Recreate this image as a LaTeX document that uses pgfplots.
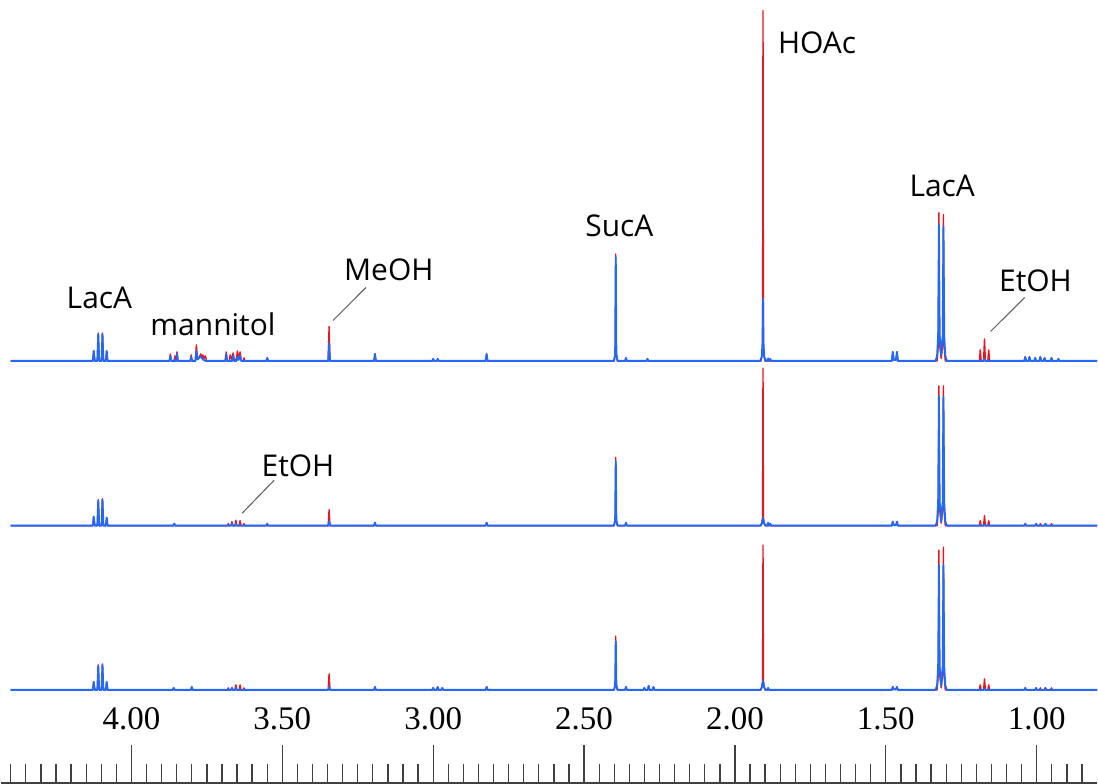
\documentclass[border=0pt]{standalone}
\usepackage{fontspec}
\setmainfont{Liberation Serif}
\newfontfamily\sanslabel{Open Sans}
\newfontfamily\ticklab{Liberation Serif}
\usepackage{pgfplots}
\pgfplotsset{compat=1.18}
\definecolor{specred}{RGB}{225,25,35}
\definecolor{specblue}{RGB}{35,105,245}
\begin{document}
\begin{tikzpicture}
\begin{axis}[
  scale only axis, width=1098pt, height=784pt,
  x dir=reverse, xmin=0.80, xmax=4.433, ymin=-1, ymax=783,
  axis x line=bottom, axis y line=none,
  axis line style={-, line width=1.6pt, color=black!75},
  xtick={1,1.5,2,2.5,3,3.5,4},
  /pgf/number format/assume math mode=true,
  xticklabel={\ticklab\fontsize{33}{40}\selectfont\pgfmathprintnumber[fixed,fixed zerofill,precision=2,assume math mode=true]{\tick}},
  minor xtick={0.85,0.90,...,4.42},
  tick align=inside, major tick length=38pt, minor tick length=19pt,
  every tick/.style={black!75, line width=1.3pt},
  xticklabel style={anchor=center, yshift=64pt, font=\ticklab\fontsize{33}{40}\selectfont},
  clip=false,
  every axis plot/.append style={line join=round, mark=none},
  redline/.style={specred, line width=1.4pt},
  blueline/.style={specblue, line width=1.9pt},
]
\path (rel axis cs:0,0) rectangle (rel axis cs:1,1);

% ---------------- top trace (red) ----------------
\addplot[redline] coordinates {
(4.40,421.5)
(4.128,421.5)(4.125,431.5)(4.1215,421.5)
(4.113,421.5)(4.110,449.5)(4.107,421.5)
(4.099,421.5)(4.096,449.5)(4.093,421.5)
(4.085,421.5)(4.082,431.5)(4.079,421.5)
(3.874,421.5)(3.871,428.5)(3.868,421.5)
(3.859,421.5)(3.856,426.5)(3.852,421.5)(3.849,430.5)(3.846,421.5)
(3.805,421.5)(3.802,427.5)(3.799,421.5)
(3.788,421.5)(3.785,437.5)(3.781,424)(3.776,425)(3.770,428.5)(3.766,424)(3.763,427.5)(3.759,424)(3.755,426.5)(3.751,421.5)
(3.689,421.5)(3.686,430.5)(3.683,421.5)(3.676,421.5)(3.673,427.5)(3.668,423)(3.663,429.5)(3.659,423)(3.652,423)(3.649,431.5)(3.645,424)(3.640,430.5)(3.636,421.5)
(3.630,421.5)(3.627,424.5)(3.624,421.5)
(3.553,421.5)(3.550,424.5)(3.547,421.5)
(3.348,421.5)(3.345,456)(3.342,421.5)
(3.196,421.5)(3.193,428.5)(3.190,421.5)
(3.003,421.5)(3.000,423.5)(2.997,421.5)(2.988,421.5)(2.985,423.5)(2.982,421.5)
(2.826,421.5)(2.823,428.5)(2.820,421.5)
(2.400,421.5)(2.3965,430)(2.395,528.5)(2.3935,430)(2.390,421.5)
(2.364,421.5)(2.361,424.5)(2.358,421.5)
(2.293,421.5)(2.290,423.5)(2.287,421.5)
(1.913,421.5)(1.9085,432)(1.907,772.5)(1.9055,432)(1.901,421.5)
(1.480,421.5)(1.477,430.5)(1.4735,422.5)(1.4665,422.5)(1.463,430.5)(1.460,421.5)
(1.330,421.5)(1.3255,440)(1.324,570)(1.3225,440)(1.3165,424)(1.3105,440)(1.309,568)(1.3075,440)(1.303,421.5)
(1.190,421.5)(1.187,432.5)(1.184,421.5)(1.176,421.5)(1.173,443.5)(1.170,421.5)(1.162,421.5)(1.159,432.5)(1.156,421.5)
(1.041,421.5)(1.038,425.5)(1.035,421.5)(1.027,421.5)(1.024,425.5)(1.021,421.5)(1.008,421.5)(1.005,424.5)(1.002,421.5)
(0.991,421.5)(0.988,425.5)(0.985,421.5)(0.977,421.5)(0.974,424.5)(0.971,421.5)(0.954,421.5)(0.951,424.5)(0.948,421.5)
(0.931,421.5)(0.928,423.5)(0.925,421.5)
(0.80,421.5)
};
% ---------------- top trace (blue) ----------------
\addplot[blueline] coordinates {
(4.40,421.5)
(4.128,421.5)(4.125,431.5)(4.1215,421.5)
(4.113,421.5)(4.110,448.5)(4.107,421.5)
(4.099,421.5)(4.096,448.5)(4.093,421.5)
(4.085,421.5)(4.082,431.5)(4.079,421.5)
(3.874,421.5)(3.871,426.5)(3.868,421.5)(3.852,421.5)(3.849,428.5)(3.846,421.5)
(3.805,421.5)(3.802,425.5)(3.799,421.5)(3.788,421.5)(3.785,431.5)(3.781,423)(3.770,426)(3.763,423)(3.755,421.5)
(3.689,421.5)(3.686,428.5)(3.683,421.5)(3.666,421.5)(3.663,426.5)(3.660,421.5)(3.652,421.5)(3.649,425.5)(3.645,422.5)(3.640,426.5)(3.636,421.5)
(3.553,421.5)(3.550,424.5)(3.547,421.5)
(3.348,421.5)(3.345,439)(3.342,421.5)
(3.196,421.5)(3.193,428.5)(3.190,421.5)
(3.003,421.5)(3.000,423.5)(2.997,421.5)(2.988,421.5)(2.985,423.5)(2.982,421.5)
(2.826,421.5)(2.823,428.5)(2.820,421.5)
(2.401,421.5)(2.397,428)(2.395,525.5)(2.393,428)(2.389,421.5)
(2.364,421.5)(2.361,424.5)(2.358,421.5)
(2.293,421.5)(2.290,423.5)(2.287,421.5)
(1.916,421.5)(1.911,426)(1.9085,440)(1.907,484)(1.9055,440)(1.903,426)(1.898,421.5)
(1.893,421.5)(1.890,424)(1.887,421.5)(1.883,423.5)(1.880,421.5)
(1.480,421.5)(1.477,430.5)(1.4735,422.5)(1.4665,422.5)(1.463,430.5)(1.460,421.5)
(1.335,421.5)(1.330,426.5)(1.3265,446.5)(1.325,511.5)(1.324,558)(1.323,511.5)(1.3215,446.5)(1.3165,427.5)(1.3115,446.5)(1.310,511.5)(1.309,556)(1.308,511.5)(1.3065,446.5)(1.303,426.5)(1.298,421.5)
(1.176,421.5)(1.173,423.5)(1.170,421.5)
(1.041,421.5)(1.038,425.5)(1.035,421.5)(1.027,421.5)(1.024,425.5)(1.021,421.5)(1.008,421.5)(1.005,424.5)(1.002,421.5)
(0.991,421.5)(0.988,425.5)(0.985,421.5)(0.977,421.5)(0.974,424.5)(0.971,421.5)(0.954,421.5)(0.951,424.5)(0.948,421.5)
(0.931,421.5)(0.928,423.5)(0.925,421.5)
(0.80,421.5)
};

% ---------------- middle trace (red) ----------------
\addplot[redline] coordinates {
(4.40,256.5)
(4.128,256.5)(4.125,265.5)(4.1215,256.5)
(4.113,256.5)(4.110,282.5)(4.107,256.5)
(4.099,256.5)(4.096,283.5)(4.093,256.5)
(4.085,256.5)(4.082,264.5)(4.079,256.5)
(3.861,256.5)(3.858,258.5)(3.855,256.5)
(3.682,256.5)(3.679,258.5)(3.676,256.5)(3.670,256.5)(3.667,260.5)(3.664,256.5)(3.657,256.5)(3.654,262)(3.651,256.5)
(3.643,256.5)(3.640,261.5)(3.637,256.5)(3.630,256.5)(3.627,258.5)(3.624,256.5)
(3.348,256.5)(3.345,272.5)(3.342,256.5)
(3.196,256.5)(3.193,259.5)(3.190,256.5)
(2.826,256.5)(2.823,259.5)(2.820,256.5)
(2.400,256.5)(2.3965,262)(2.395,325)(2.3935,262)(2.390,256.5)
(2.364,256.5)(2.361,259.5)(2.358,256.5)
(1.913,256.5)(1.9085,264)(1.907,414)(1.9055,264)(1.901,256.5)
(1.480,256.5)(1.477,260.5)(1.4735,257)(1.4665,257)(1.463,260.5)(1.460,256.5)
(1.330,256.5)(1.3255,275)(1.324,396.5)(1.3225,275)(1.3165,259)(1.3105,275)(1.309,396.5)(1.3075,275)(1.303,256.5)
(1.190,256.5)(1.187,261.5)(1.184,256.5)(1.176,256.5)(1.173,266.5)(1.170,256.5)(1.162,256.5)(1.159,261.5)(1.156,256.5)
(1.041,256.5)(1.038,258.5)(1.035,256.5)(0.991,256.5)(0.988,258.5)(0.985,256.5)(0.954,256.5)(0.951,258.5)(0.948,256.5)
(0.80,256.5)
};
% ---------------- middle trace (blue) ----------------
\addplot[blueline] coordinates {
(4.40,256.5)
(4.128,256.5)(4.125,265.5)(4.1215,256.5)
(4.113,256.5)(4.110,281.5)(4.107,256.5)
(4.099,256.5)(4.096,282.5)(4.093,256.5)
(4.085,256.5)(4.082,264.5)(4.079,256.5)
(3.861,256.5)(3.858,258.5)(3.855,256.5)
(3.670,256.5)(3.667,258.5)(3.664,256.5)(3.657,256.5)(3.654,258.5)(3.651,256.5)
(3.553,256.5)(3.550,258.5)(3.547,256.5)
(3.348,256.5)(3.345,260.5)(3.342,256.5)
(3.196,256.5)(3.193,259.5)(3.190,256.5)
(2.826,256.5)(2.823,259.5)(2.820,256.5)
(2.401,256.5)(2.397,262)(2.395,321)(2.393,262)(2.389,256.5)
(2.364,256.5)(2.361,259.5)(2.358,256.5)
(1.916,256.5)(1.911,258.5)(1.907,264)(1.903,258.5)(1.898,256.5)
(1.893,256.5)(1.890,259.5)(1.887,256.5)(1.883,258.5)(1.880,256.5)
(1.480,256.5)(1.477,260.5)(1.4735,257)(1.4665,257)(1.463,260.5)(1.460,256.5)
(1.335,256.5)(1.330,261)(1.3265,280)(1.325,342)(1.324,386)(1.323,342)(1.3215,280)(1.3165,260.5)(1.3115,280)(1.310,342)(1.309,385.5)(1.308,342)(1.3065,280)(1.303,261)(1.298,256.5)
(1.176,256.5)(1.173,257.5)(1.170,256.5)
(1.041,256.5)(1.038,258.5)(1.035,256.5)(1.005,256.5)(1.002,258.5)(0.999,256.5)(0.974,256.5)(0.971,258.5)(0.968,256.5)
(0.80,256.5)
};

% ---------------- bottom trace (red) ----------------
\addplot[redline] coordinates {
(4.40,92)
(4.128,92)(4.125,100)(4.1215,92)
(4.113,92)(4.110,117)(4.107,92)
(4.099,92)(4.096,118)(4.093,92)
(4.085,92)(4.082,100)(4.079,92)
(3.863,92)(3.860,94)(3.857,92)(3.803,92)(3.800,94)(3.797,92)
(3.682,92)(3.679,94)(3.676,92)(3.670,92)(3.667,94)(3.664,92)(3.657,92)(3.654,97)(3.651,92)
(3.643,92)(3.640,97)(3.637,92)(3.630,92)(3.627,94)(3.624,92)
(3.348,92)(3.345,108)(3.342,92)
(3.196,92)(3.193,95)(3.190,92)
(3.003,92)(3.000,94)(2.997,92)(2.988,92)(2.985,95)(2.982,92)(2.973,92)(2.970,94)(2.967,92)
(2.826,92)(2.823,95)(2.820,92)
(2.400,92)(2.3965,97)(2.395,146)(2.3935,97)(2.390,92)
(2.364,92)(2.361,95)(2.358,92)
(2.303,92)(2.300,94)(2.297,92)(2.289,92)(2.286,96)(2.283,92)(2.273,92)(2.270,95)(2.267,92)
(1.913,92)(1.9085,100)(1.907,237)(1.9055,100)(1.901,92)
(1.480,92)(1.477,95)(1.4735,92.5)(1.4665,92.5)(1.463,95)(1.460,92)
(1.330,92)(1.3255,110)(1.324,232)(1.3225,110)(1.3165,94)(1.3105,110)(1.309,235)(1.3075,110)(1.303,92)
(1.190,92)(1.187,97)(1.184,92)(1.176,92)(1.173,103)(1.170,92)(1.162,92)(1.159,97)(1.156,92)
(1.041,92)(1.038,94)(1.035,92)(0.991,92)(0.988,94)(0.985,92)(0.954,92)(0.951,94)(0.948,92)
(0.80,92)
};
% ---------------- bottom trace (blue) ----------------
\addplot[blueline] coordinates {
(4.40,92)
(4.128,92)(4.125,100)(4.1215,92)
(4.113,92)(4.110,116)(4.107,92)
(4.099,92)(4.096,117)(4.093,92)
(4.085,92)(4.082,100)(4.079,92)
(3.863,92)(3.860,94)(3.857,92)(3.803,92)(3.800,95)(3.797,92)
(3.670,92)(3.667,94)(3.664,92)(3.657,92)(3.654,94)(3.651,92)
(3.348,92)(3.345,95)(3.342,92)
(3.196,92)(3.193,95)(3.190,92)
(3.003,92)(3.000,94)(2.997,92)(2.988,92)(2.985,95)(2.982,92)(2.973,92)(2.970,94)(2.967,92)
(2.826,92)(2.823,95)(2.820,92)
(2.401,92)(2.397,97)(2.395,141)(2.393,97)(2.389,92)
(2.364,92)(2.361,95)(2.358,92)
(2.303,92)(2.300,94)(2.297,92)(2.289,92)(2.286,96)(2.283,92)(2.273,92)(2.270,95)(2.267,92)
(1.916,92)(1.911,94.5)(1.907,101)(1.903,94.5)(1.898,92)
(1.893,92)(1.890,94)(1.887,92)
(1.480,92)(1.477,95)(1.4735,92.5)(1.4665,92.5)(1.463,95)(1.460,92)
(1.335,92)(1.330,96.5)(1.3265,115)(1.325,175)(1.324,217)(1.323,175)(1.3215,115)(1.3165,96)(1.3115,115)(1.310,175)(1.309,217)(1.308,175)(1.3065,115)(1.303,96.5)(1.298,92)
(1.176,92)(1.173,93)(1.170,92)
(1.041,92)(1.038,94)(1.035,92)(1.005,92)(1.002,94)(0.999,92)(0.974,92)(0.971,94)(0.968,92)
(0.80,92)
};

% ---------------- annotations ----------------
\begin{scope}[every node/.style={font=\sanslabel\fontsize{30}{36}\selectfont, anchor=base, inner sep=0pt}]
\node at (axis cs:4.106,474) {LacA};
\node at (axis cs:3.730,447) {mannitol};
\node at (axis cs:3.147,502) {MeOH};
\node at (axis cs:2.383,546) {SucA};
\node at (axis cs:1.728,729) {HOAc};
\node at (axis cs:1.313,586) {LacA};
\node at (axis cs:1.004,491) {EtOH};
\node at (axis cs:3.448,306) {EtOH};
\end{scope}
\draw[black!65, line width=1pt] (axis cs:3.332,462) -- (axis cs:3.223,495);
\draw[black!65, line width=1pt] (axis cs:1.153,451) -- (axis cs:1.040,485);
\draw[black!65, line width=1pt] (axis cs:3.633,269) -- (axis cs:3.527,302);
\end{axis}
\end{tikzpicture}
\end{document}
